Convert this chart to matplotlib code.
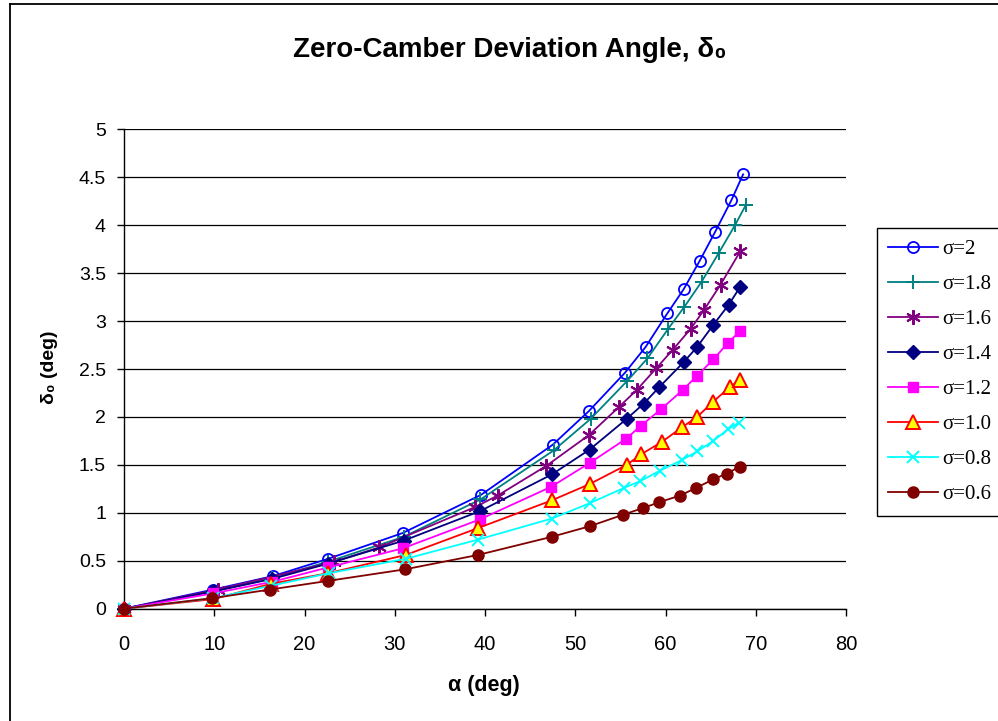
import matplotlib
matplotlib.use("Agg")
import matplotlib.pyplot as plt
from matplotlib.lines import Line2D

# alpha (deg) / delta_0 (deg) for each solidity
alpha_s20 = [0, 9.9, 16.5, 22.6, 30.9, 39.6, 47.5, 51.5, 55.5, 57.8, 60.2, 62.0, 63.8, 65.5, 67.3, 68.6]
delta_s20 = [0, 0.20, 0.34, 0.52, 0.79, 1.19, 1.71, 2.06, 2.46, 2.73, 3.08, 3.33, 3.63, 3.93, 4.26, 4.53]

alpha_s18 = [0, 9.9, 16.4, 22.6, 31.0, 39.5, 47.6, 51.7, 55.7, 58.0, 60.3, 62.1, 64.0, 65.9, 67.7, 68.9]
delta_s18 = [0, 0.18, 0.32, 0.49, 0.75, 1.14, 1.65, 1.98, 2.37, 2.61, 2.92, 3.15, 3.41, 3.71, 4.00, 4.21]

alpha_s16 = [0, 10.4, 23.3, 28.3, 38.9, 41.4, 46.8, 51.5, 54.8, 56.8, 59.0, 60.8, 62.8, 64.3, 66.1, 68.3]
delta_s16 = [0, 0.20, 0.49, 0.64, 1.06, 1.18, 1.49, 1.81, 2.10, 2.28, 2.51, 2.70, 2.92, 3.12, 3.38, 3.73]

alpha_s14 = [0, 9.9, 16.4, 22.6, 31.0, 39.5, 47.4, 51.6, 55.7, 57.6, 59.3, 62.0, 63.5, 65.3, 67.0, 68.3]
delta_s14 = [0, 0.18, 0.31, 0.47, 0.71, 1.02, 1.40, 1.66, 1.98, 2.14, 2.31, 2.57, 2.73, 2.96, 3.17, 3.36]

alpha_s12 = [0, 9.9, 16.4, 22.6, 30.9, 39.4, 47.3, 51.6, 55.6, 57.3, 59.5, 61.9, 63.5, 65.3, 66.9, 68.3]
delta_s12 = [0, 0.16, 0.28, 0.43, 0.63, 0.93, 1.27, 1.52, 1.77, 1.91, 2.08, 2.28, 2.43, 2.60, 2.77, 2.90]

alpha_s10 = [0, 9.9, 16.3, 22.6, 31.2, 39.2, 47.4, 51.6, 55.7, 57.3, 59.6, 61.8, 63.5, 65.3, 67.1, 68.3]
delta_s10 = [0, 0.10, 0.26, 0.37, 0.56, 0.84, 1.13, 1.30, 1.50, 1.61, 1.74, 1.89, 2.00, 2.16, 2.31, 2.39]

alpha_s08 = [0, 9.9, 16.3, 22.7, 31.2, 39.2, 47.4, 51.6, 55.4, 57.2, 59.4, 61.8, 63.5, 65.3, 66.9, 68.1]
delta_s08 = [0, 0.11, 0.24, 0.37, 0.52, 0.72, 0.94, 1.10, 1.26, 1.33, 1.44, 1.55, 1.64, 1.75, 1.87, 1.94]

alpha_s06 = [0, 9.8, 16.2, 22.6, 31.1, 39.2, 47.4, 51.6, 55.3, 57.5, 59.3, 61.6, 63.4, 65.3, 66.8, 68.2]
delta_s06 = [0, 0.11, 0.20, 0.29, 0.41, 0.56, 0.75, 0.86, 0.98, 1.05, 1.11, 1.18, 1.26, 1.35, 1.41, 1.48]

labels = ["\u03c3=2", "\u03c3=1.8", "\u03c3=1.6", "\u03c3=1.4",
          "\u03c3=1.2", "\u03c3=1.0", "\u03c3=0.8", "\u03c3=0.6"]

W, H = 998, 721
fig = plt.figure(figsize=(W / 100, H / 100), dpi=100)
ax = fig.add_axes([124 / W, 1 - 608.7 / H, (846 - 124) / W, (608.7 - 129.3) / H])

sans = ["Liberation Sans", "DejaVu Sans"]
narrow = ["Liberation Sans Narrow", "Liberation Sans", "DejaVu Sans"]

styles = [
    dict(color="#0000FF", marker="o", mfc="none", mec="#0000FF", ms=8, mew=1.3),
    dict(color="#008080", marker="+", mec="#008080", ms=10.5, mew=1.4),
    dict(color="#800080", marker=(6, 2, 0), mec="#800080", ms=10.5, mew=1.5),
    dict(color="#000080", marker="D", mfc="#000080", mec="#000080", ms=7),
    dict(color="#FF00FF", marker="s", mfc="#FF00FF", mec="#FF00FF", ms=7.5),
    dict(color="#FF0000", marker="^", mfc="#FFFF00", mec="#FF0000", ms=9.5, mew=1.4),
    dict(color="#00FFFF", marker="x", mec="#00FFFF", ms=9, mew=1.4),
    dict(color="#800000", marker="o", mfc="#800000", mec="#800000", ms=8),
]
series = [
    (alpha_s20, delta_s20), (alpha_s18, delta_s18), (alpha_s16, delta_s16),
    (alpha_s14, delta_s14), (alpha_s12, delta_s12), (alpha_s10, delta_s10),
    (alpha_s08, delta_s08), (alpha_s06, delta_s06),
]
handles = []
for (xs, ys), st, lab in zip(series, styles, labels):
    h, = ax.plot(xs, ys, lw=1.3, label=lab, clip_on=False, zorder=3, **st)
    handles.append(h)

ax.set_xlim(0, 80)
ax.set_ylim(0, 5)
ax.set_xticks(range(0, 81, 10))
ax.set_yticks([0, 0.5, 1, 1.5, 2, 2.5, 3, 3.5, 4, 4.5, 5])
ax.set_yticklabels(["0", "0.5", "1", "1.5", "2", "2.5", "3", "3.5", "4", "4.5", "5"])
ax.grid(axis="y", color="black", lw=0.9)
ax.set_axisbelow(True)
for s in ("top", "right"):
    ax.spines[s].set_visible(False)
for s in ("left", "bottom"):
    ax.spines[s].set_linewidth(1.0)
ax.tick_params(axis="both", direction="out", length=5, width=1.0, colors="black")
ax.tick_params(axis="y", pad=8, labelsize=14)
ax.tick_params(axis="x", pad=14, labelsize=14.5)
for t in ax.get_yticklabels():
    t.set_family(sans)
for t in ax.get_xticklabels():
    t.set_family(narrow)

fig.text(510 / W, 1 - 50 / H, "Zero-Camber Deviation Angle, \u03b4\u2080",
         ha="center", va="center", fontsize=20, fontweight="bold", family=sans)
fig.text(484 / W, 1 - 686 / H, "\u03b1 (deg)", ha="center", va="center",
         fontsize=15.5, fontweight="bold", family=narrow)
fig.text(50 / W, 1 - 367 / H, "\u03b4\u2080 (deg)", ha="center", va="center",
         rotation=90, fontsize=14, fontweight="bold", family=sans)

leg = fig.legend(handles=handles, loc="upper left",
                 bbox_to_anchor=(877 / W, 1 - 228 / H), frameon=True,
                 fancybox=False, edgecolor="black", framealpha=1,
                 prop={"family": ["Liberation Serif", "DejaVu Serif"], "size": 15},
                 handlelength=2.4, handletextpad=0.2, labelspacing=0.74,
                 borderpad=0.55, borderaxespad=0, numpoints=1)
leg.get_frame().set_linewidth(1.0)

# outer chart frame (left and top edges)
fig.add_artist(Line2D([10 / W, 10 / W], [0, 1 - 4 / H], transform=fig.transFigure,
                      color="black", lw=1.3))
fig.add_artist(Line2D([10 / W, 1], [1 - 4 / H, 1 - 4 / H], transform=fig.transFigure,
                      color="black", lw=1.3))

fig.savefig("out.png", dpi=100)
